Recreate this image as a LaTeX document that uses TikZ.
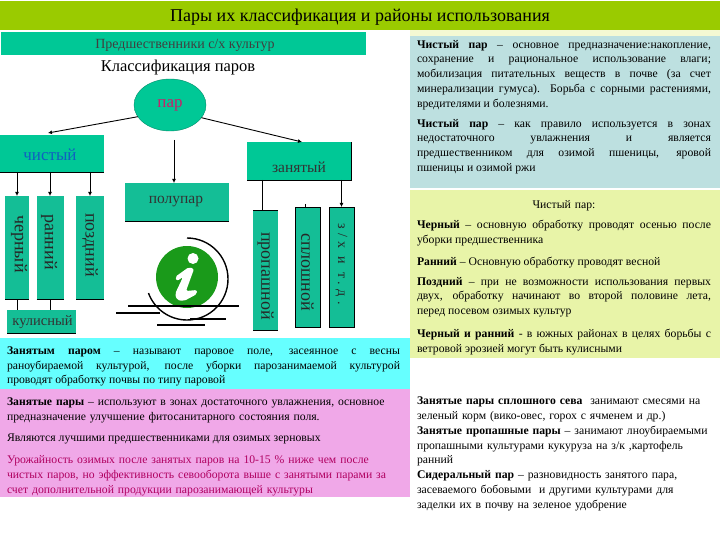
\documentclass[tikz,border=0pt]{standalone}
\usepackage{fontspec}
\setmainfont{Liberation Serif}
\usetikzlibrary{arrows.meta,shapes.geometric}
\definecolor{teal1}{HTML}{00C896}
\definecolor{teal2}{HTML}{14BE96}
\definecolor{titlegreen}{HTML}{9ACB00}
\definecolor{cyanbox}{HTML}{66FFFF}
\definecolor{pinkbox}{HTML}{F0A8E8}
\definecolor{bluebox}{HTML}{BDE0E0}
\definecolor{yellowbox}{HTML}{E8F4A8}
\definecolor{iconleaf}{HTML}{1A9A1A}
\definecolor{crim}{HTML}{C8206A}
\definecolor{wine}{HTML}{B00060}
\definecolor{bluetext}{HTML}{1060C0}
\newcommand{\fs}[2]{\fontsize{#1}{#2}\selectfont}
\newcommand{\nl}{\linebreak[4]}
\tikzset{
  x=1pt,y=-1pt,
  para/.style={anchor=north west,inner sep=0pt,outer sep=0pt,align=justify,font=\fs{11.7}{14.8}},
  vlabel/.style={rotate=-90,inner sep=0pt,font=\fs{18}{18},text=black!85},
  tbox/.style={fill=teal2,inner sep=0pt,outer sep=0pt},
  blabel/.style={inner sep=0pt,text=black!80,font=\fs{15.5}{18}},
  conn/.style={line width=0.9pt,-{Latex[length=4pt,width=4pt]}},
  plain/.style={line width=0.9pt}
}
\begin{document}
\begin{tikzpicture}
\useasboundingbox (0,0) rectangle (720,540);
\fill[white] (0,0) rectangle (720,540);
% panels
\fill[titlegreen] (0,1) rectangle (720,30);
\fill[teal1] (1,32) rectangle (366,55);
\fill[yellowbox!50] (410,30) rectangle (720,36);
\fill[bluebox] (410,36) rectangle (720,188);
\fill[yellowbox] (410,190) rectangle (720,358);
\fill[cyanbox] (0,338) rectangle (410,389);
\fill[pinkbox] (0,389) rectangle (410,497);
% title
\node[inner sep=0pt] (title) at (360,17) {\fs{18}{20}Пары их классификация и районы использования};
\node[inner sep=0pt,text=black!75] (pred) at (185,45) {\fs{14}{16}Предшественники с/х культур};
\node[inner sep=0pt] (klass) at (178,68) {\fs{16.5}{18}Классификация паров};
% diagram
\node[ellipse,fill=teal1,draw=teal1!70!black,line width=0.4pt,minimum width=72pt,minimum height=52pt,inner sep=0pt,outer sep=0pt] (par) at (170,105) {};
\node[inner sep=0pt,text=crim,font=\fs{17}{18}] (parL) at (170,105) {пар};
\node[fill=teal1,minimum width=104pt,minimum height=37pt,inner sep=0pt,outer sep=0pt] (chist) at (52,153.5) {};
\node[inner sep=0pt,text=bluetext,font=\fs{17}{18}] (chistL) at (50,155) {чистый};
\node[fill=teal1,minimum width=104pt,minimum height=38pt,inner sep=0pt,outer sep=0pt] (zan) at (299,161) {};
\node[blabel] (zanL) at (299,167) {занятый};
\node[tbox,minimum width=104pt,minimum height=38pt] (polu) at (177,202) {};
\node[blabel] (poluL) at (176,202) {полупар};
\draw[line width=0.8pt] (chist.south west) -- (chist.south east);
\draw[line width=0.8pt] (zan.south west) -- (zan.south east) -- (zan.north east);
\draw[line width=0.8pt] (polu.south west) -- (polu.south east);
\coordinate (parb) at (174,140);
\draw[conn] (par.200) -- (48,133);
\draw[conn] (par.-22) -- (302,142);
\draw[conn] (parb) -- (polu.north -| parb);
% vertical boxes
\node[tbox,minimum width=24pt,minimum height=103pt] (cher) at (17,247.5) {};
\node[vlabel] (cherL) at (19,244) {черный};
\node[tbox,minimum width=27pt,minimum height=103pt] (rann) at (50,247.5) {};
\node[vlabel] (rannL) at (49,242) {ранний};
\node[tbox,minimum width=28pt,minimum height=103pt] (pozd) at (90,247.5) {};
\node[vlabel] (pozdL) at (90,245) {поздний};
\node[tbox,minimum width=69pt,minimum height=23pt] (kul) at (41.5,321.5) {};
\node[blabel,font=\fs{14.5}{15}] (kulL) at (42.5,322) {кулисный};
\node[tbox,minimum width=25pt,minimum height=120pt] (prop) at (265.5,270) {};
\node[vlabel] (propL) at (265.5,276) {пропашной};
\node[tbox,minimum width=25pt,minimum height=120pt,draw=black,line width=0.6pt] (spl) at (307.5,267) {};
\node[vlabel] (splL) at (307.5,272) {сплошной};
\node[tbox,minimum width=25pt,minimum height=120pt,draw=black,line width=0.6pt] (zk) at (341.5,267) {};
\node[vlabel,font={\fs{14}{14}\addfontfeatures{LetterSpace=32}}] (zkL) at (341.5,264) {з/х и т.д.};
\foreach \n in {cher,rann,pozd,prop,kul}{\draw[line width=0.7pt] (\n.south west) -- (\n.south east);}
\draw[line width=0.7pt] (prop.north west) -- (prop.north east);
% connectors
\coordinate (zanLeft) at (262,180);
\coordinate (zanRight) at (341.5,180);
\coordinate (splT) at (305,204);
\draw[conn] (chist.south -| cher) -- (cher.north);
\draw[conn] (chist.south -| rann) -- (rann.north);
\draw[conn] (chist.south -| pozd) -- (pozd.north);
\draw[plain] (zanLeft) -- (prop.north -| zanLeft);
\draw[conn] (zanRight) -- (zk.north);
\draw[plain] (splT) -- (spl.north -| splT);
\draw[plain] (cher.south) -- (kul.north -| cher);
\draw[plain] (rann.south) -- (kul.north -| rann);
% icon
\fill[iconleaf] (187,277) circle (31);
\draw[line width=1.4pt] (187,238) arc[start angle=-90,end angle=160,radius=41];
\draw[line width=1.5pt] (128,306) -- (239,306);
\draw[line width=1.5pt] (116,313) -- (160,313);
\draw[line width=1.5pt] (190,319) -- (226,319);
\draw[line width=1.5pt] (157,325) -- (205,325);
\fill[white] (193,258.5) circle (5.5);
\fill[white,rounded corners=2pt] (175,277) -- (189,267) -- (194,269) -- (186,291) -- (197,290) -- (197,294) -- (184,301) -- (177,300) -- (175,294) -- (183,277) -- (177,281) -- cycle;
% left text
\node[para,text width=393pt] (t1) at (7,346.5) {\textbf{Занятым паром} – называют паровое поле, засеянное с весны\nl раноубираемой культурой, после уборки парозанимаемой культурой\nl \hbox{проводят обработку почвы по типу паровой}};
\node[para,text width=393pt,align=left] (t2) at (7,397.5) {\textbf{Занятые пары} – используют в зонах достаточного увлажнения, основное\\ предназначение улучшение фитосанитарного состояния поля.};
\node[para,text width=393pt] (t3) at (7,433.5) {Являются лучшими предшественниками для озимых зерновых};
\node[para,text width=393pt,text=wine,align=left] (t4) at (7,455.5) {Урожайность озимых после занятых паров на 10-15 \% ниже чем после\\ чистых паров, но эффективность севооборота выше с занятыми парами за\\ счет дополнительной продукции парозанимающей культуры};
% right text
\node[para,text width=294pt] (r1) at (417,40) {\textbf{Чистый пар} – основное предназначение:накопление,\nl сохранение и рациональное использование влаги;\nl мобилизация питательных веществ в почве (за счет\nl минерализации гумуса). Борьба с сорными растениями,\nl \hbox{вредителями и болезнями.}};
\node[para,text width=294pt] (r2) at (417,119) {\textbf{Чистый пар} – как правило используется в зонах\nl недостаточного увлажнения и является\nl предшественником для озимой пшеницы, яровой\nl \hbox{пшеницы и озимой ржи}};
\node[para,text width=294pt,align=center] (r3) at (417,200) {Чистый пар:};
\node[para,text width=294pt] (r4) at (417,220) {\textbf{Черный} – основную обработку проводят осенью после\nl \hbox{уборки предшественника}};
\node[para,text width=294pt] (r5) at (417,257) {\textbf{Ранний} – Основную обработку проводят весной};
\node[para,text width=294pt] (r6) at (417,277) {\textbf{Поздний} – при не возможности использования первых\nl двух, обработку начинают во второй половине лета,\nl \hbox{перед посевом озимых культур}};
\node[para,text width=294pt] (r7) at (417,329) {\textbf{Черный и ранний} - в южных районах в целях борьбы с\nl \hbox{ветровой эрозией могут быть кулисными}};
\node[para,text width=300pt,align=left] (r8) at (417,397) {\textbf{Занятые пары сплошного сева}\ \ занимают смесями на\\ зеленый корм (вико-овес, горох с ячменем и др.)\\ \textbf{Занятые пропашные пары} – занимают лноубираемыми\\ пропашными культурами кукуруза на з/к ,картофель\\ ранний\\ \textbf{Сидеральный пар} – разновидность занятого пара,\\ засеваемого бобовыми\ \ и другими культурами для\\ заделки их в почву на зеленое удобрение};
\end{tikzpicture}
\end{document}
